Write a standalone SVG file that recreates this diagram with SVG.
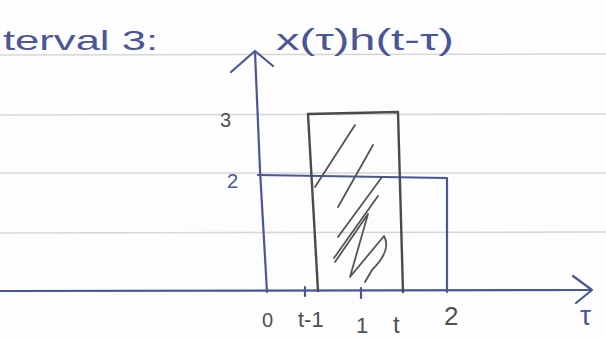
<svg xmlns="http://www.w3.org/2000/svg" width="606" height="338" viewBox="0 0 606 338">
<style>
.paper{stroke:#d6d6d6;stroke-width:1.5;fill:none}
.blue{stroke:#4a5696;stroke-width:2.2;fill:none;stroke-linecap:round;stroke-linejoin:round}
.dark{stroke:#4a4a4a;stroke-width:2.4;fill:none;stroke-linecap:round;stroke-linejoin:round}
.hatch{stroke:#555;stroke-width:1.8;fill:none;stroke-linecap:round;stroke-linejoin:round}
.tb{font-family:"Liberation Sans",sans-serif;fill:#4a5696}
.td{font-family:"Liberation Sans",sans-serif;fill:#505050}
</style>
<rect width="606" height="338" fill="#fdfdfd"/>
<g id="paper-lines">
<line class="paper" x1="0" y1="55" x2="606" y2="54"/>
<line class="paper" x1="0" y1="115" x2="606" y2="114"/>
<line class="paper" x1="0" y1="173" x2="606" y2="173"/>
<line class="paper" x1="0" y1="233" x2="606" y2="232"/>
</g>
<g id="title"><text class="tb" x="3" y="50" font-size="28" textLength="155" lengthAdjust="spacingAndGlyphs">terval 3:</text></g>
<g id="ylabel"><text class="tb" x="276" y="50" font-size="30" textLength="178" lengthAdjust="spacingAndGlyphs">x(τ)h(t-τ)</text></g>
<g id="axes">
<path class="blue" d="M0 291 L590 290"/>
<path class="blue" d="M573 276 L592 290 L576 303"/>
<path class="blue" d="M255 52 L260 170 L267 292"/>
<path class="blue" d="M231 72 L255 51 L273 66"/>
</g>
<g id="x-signal">
<path class="blue" d="M258 175 L447 178 L447 292"/>
</g>
<g id="h-box">
<path class="dark" d="M318 291 L308 114 L398 112 L403 292"/>
</g>
<g id="hatching">
<path class="hatch" d="M315 187 L355 125"/>
<path class="hatch" d="M338 207 L373 145"/>
<path class="hatch" d="M338 237 L382 177"/>
<path class="hatch" d="M335 262 L368 214 L350 277 L384 236 Q392 250 372 270 L365 282"/>
<path class="hatch" d="M334 258 L378 196"/>
</g>
<g id="ticks">
<path class="blue" d="M305 287 L305 296"/>
<path class="blue" d="M361 288 L361 298"/>
</g>
<g id="labels">
<text class="td" x="220" y="127" font-size="20">3</text>
<text class="tb" x="227" y="188" font-size="20">2</text>
<text class="td" x="262" y="327" font-size="20">0</text>
<text class="td" x="298" y="327" font-size="22">t-1</text>
<text class="td" x="356" y="333" font-size="22">1</text>
<text class="td" x="393" y="333" font-size="24">t</text>
<text class="td" x="444" y="325" font-size="26">2</text>
<text class="tb" x="580" y="325" font-size="28">τ</text>
</g>
</svg>
